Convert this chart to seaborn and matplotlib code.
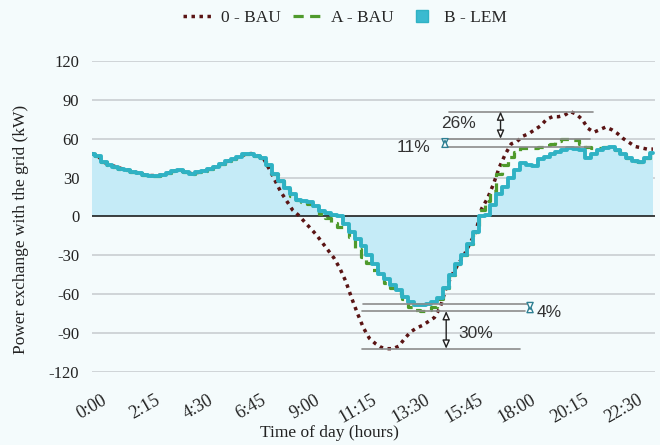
import numpy as np
import pandas as pd
import seaborn as sns
import matplotlib.pyplot as plt
import matplotlib.transforms as mtransforms

# 15-minute steps over one day
times = ['%d:%02d' % (m // 60, m % 60) for m in range(0, 24 * 60, 15)]

b_lem = [48.6, 47, 42, 40, 38.5, 37, 36, 34.5, 33.5, 32,
         31.6, 31.6, 32, 33.5, 35, 35.5, 34, 33, 34, 35,
         36.5, 38.5, 40.5, 42.5, 44, 46, 48, 48.6, 47, 45.5,
         40, 33, 27, 22, 17, 13, 12, 11, 8, 4,
         2.5, 1.5, 0.5, -6, -12, -17, -23, -30, -37, -44,
         -48, -53, -57, -62, -66, -68, -68.5, -67.5, -66, -63,
         -55, -45, -37, -30, -21, -12, 0, 1, 9, 17,
         23, 30, 36, 41.5, 40, 39, 44, 46, 48, 49.5,
         51, 52.5, 52, 51, 45.5, 48, 51, 52.5, 53.4, 51.5,
         48, 45.5, 42.5, 42, 45, 49]

bau_0 = [48.6, 47, 42, 40, 38.5, 37, 36, 34.5, 33.5, 32,
         31.6, 31.6, 32, 33.5, 35, 35.5, 34, 33, 34, 35,
         36.5, 38.5, 40.5, 42.5, 44, 46, 48, 48.6, 47, 45.5,
         37, 28, 19, 12, 5, 1, -4, -9, -14, -20,
         -26, -32, -40, -50, -63, -75, -86, -94, -98, -101,
         -102, -102, -100, -94, -89, -86, -84, -81, -78, -70,
         -55, -45, -37, -30, -21, -12, 6, 14, 25, 38,
         48, 56, 58, 62, 64, 67, 70, 75, 77, 77,
         78, 81, 79, 75, 68, 65, 67, 69, 67, 64,
         60, 57, 54, 53, 52, 52]

bau_a = [48.6, 47, 42, 40, 38.5, 37, 36, 34.5, 33.5, 32,
         31.6, 31.6, 32, 33.5, 35, 35.5, 34, 33, 34, 35,
         36.5, 38.5, 40.5, 42.5, 44, 46, 48, 48.6, 47, 45.5,
         40, 33, 27, 21, 16, 13, 11, 10, 6, 2,
         -1, -5, -8, -10, -16, -25, -31, -36, -41, -46,
         -51, -55, -59, -64, -70, -72.5, -73, -72, -70, -64,
         -55, -45, -37, -30, -21, -12, 5, 12, 20, 33,
         40, 46, 50, 53, 53, 53, 54, 55.5, 56, 58,
         59.5, 60, 59, 56, 54, 53, 53, 53.5, 53, 51.5,
         48, 45.5, 42.5, 42, 45, 49]

yticks = [-120, -90, -60, -30, 0, 30, 60, 90, 120]

df = pd.DataFrame({'t': np.arange(len(times)), 'B - LEM': b_lem,
                   '0 - BAU': bau_0, 'A - BAU': bau_a})

bg = '#f4fbfc'
cyan = '#2fb2c4'
green = '#4f9a2c'
maroon = '#5a1414'
teal = '#2d7f92'
dots = (0, (1.0, 1.3))
dash = (0, (3.2, 2.0))
sns.set_style('white')
plt.rcParams['font.family'] = ['Liberation Serif', 'DejaVu Serif']

fig = plt.figure(figsize=(6.6, 4.45), dpi=100, facecolor=bg)
ax = fig.add_axes([0.139, 0.164, 0.853, 0.699])
ax.set_facecolor(bg)

for v in yticks:
    if v != 0:
        ax.axhline(v, color='#d0d4d8', lw=1.4, zorder=0)

ax.fill_between(df['t'], 0, df['B - LEM'], step='mid', color='#c5ebf7', lw=0, zorder=1)
ax.axhline(0, color='#1e1e1e', lw=1.2, zorder=2)

l0, = ax.plot(df['t'], df['0 - BAU'], color=maroon, lw=2.5, linestyle=dots,
              dash_capstyle='butt', zorder=3)
lA, = ax.plot(df['t'], df['A - BAU'], color=green, lw=2.3, linestyle=dash,
              drawstyle='steps-mid', zorder=4)
sns.lineplot(data=df, x='t', y='B - LEM', ax=ax, color=cyan, lw=2.8,
             drawstyle='steps-mid', zorder=5)

# annotation guide lines
gl = dict(color='#8c8c8c', lw=1.2, zorder=6)
ax.plot([60.5, 84.9], [81, 81], **gl)
ax.plot([60.3, 84.4], [60, 60], **gl)
ax.plot([60.3, 84.4], [53.4, 53.4], **gl)
ax.plot([45.9, 73.7], [-67.5, -67.5], **gl)
ax.plot([45.8, 73.4], [-73, -73], **gl)
ax.plot([45.8, 72.5], [-102, -102], **gl)

def darrow(x, y0, y1, col):
    ax.annotate('', xy=(x, y1), xytext=(x, y0), zorder=7,
                arrowprops=dict(arrowstyle='<|-|>,head_length=0.5,head_width=0.22',
                                fc='white', ec=col, lw=1.0, shrinkA=0, shrinkB=0))

darrow(69.2, 60, 81, '#222222')
darrow(59.8, 53.4, 60, teal)
darrow(74.2, -67.5, -73, teal)
darrow(60.0, -73, -102, '#222222')

af = dict(family=['Liberation Sans', 'DejaVu Sans'], fontsize=12.5, color='#333333',
          ha='center', va='center', zorder=8)
ax.text(62.0, 71.5, '26%', **af)
ax.text(54.4, 53.5, '11%', **af)
ax.text(77.5, -74, '4%', **af)
ax.text(65.0, -90, '30%', **af)

ax.set_xlim(0, 95.3)
ax.set_ylim(-120, 120)
ax.set_yticks(yticks)
ax.set_yticklabels([str(v) for v in yticks], fontsize=12, color='#222222')
xt = list(range(0, 96, 9))
ax.set_xticks(xt)
ax.set_xticklabels([times[i] for i in xt], rotation=30, ha='center', fontsize=13,
                   color='#222222')
offset = mtransforms.ScaledTranslation(-9 / 100, 0, fig.dpi_scale_trans)
for lab in ax.get_xticklabels():
    lab.set_transform(lab.get_transform() + offset)
ax.tick_params(axis='x', length=0, pad=14)
ax.tick_params(axis='y', length=0, pad=9)
for s in ax.spines.values():
    s.set_visible(False)

ax.set_xlabel('Time of day (hours)', fontsize=12.5, color='#222222', va='center')
ax.xaxis.set_label_coords(0.423, -0.196)
ax.set_ylabel('Power exchange with the grid (kW)', fontsize=12.5, color='#222222')
ax.yaxis.set_label_coords(-0.112, 0.457)

h0 = plt.Line2D([], [], color=maroon, lw=2.5, linestyle=dots, dash_capstyle='butt')
hA = plt.Line2D([], [], color=green, lw=2.3, linestyle=dash)
hB = plt.Line2D([], [], color=cyan, marker='s', markersize=9, lw=0,
                markerfacecolor='#3bbad0', markeredgecolor=cyan)
ax.legend([h0, hA, hB], ['0 - BAU', 'A - BAU', 'B - LEM'], loc='center',
          bbox_to_anchor=(0.523, 0.96), bbox_transform=fig.transFigure, ncol=3,
          frameon=False, fontsize=12.5, handlelength=1.8, columnspacing=0.7,
          handletextpad=0.4)

fig.savefig('out.png', dpi=100, facecolor=bg)
